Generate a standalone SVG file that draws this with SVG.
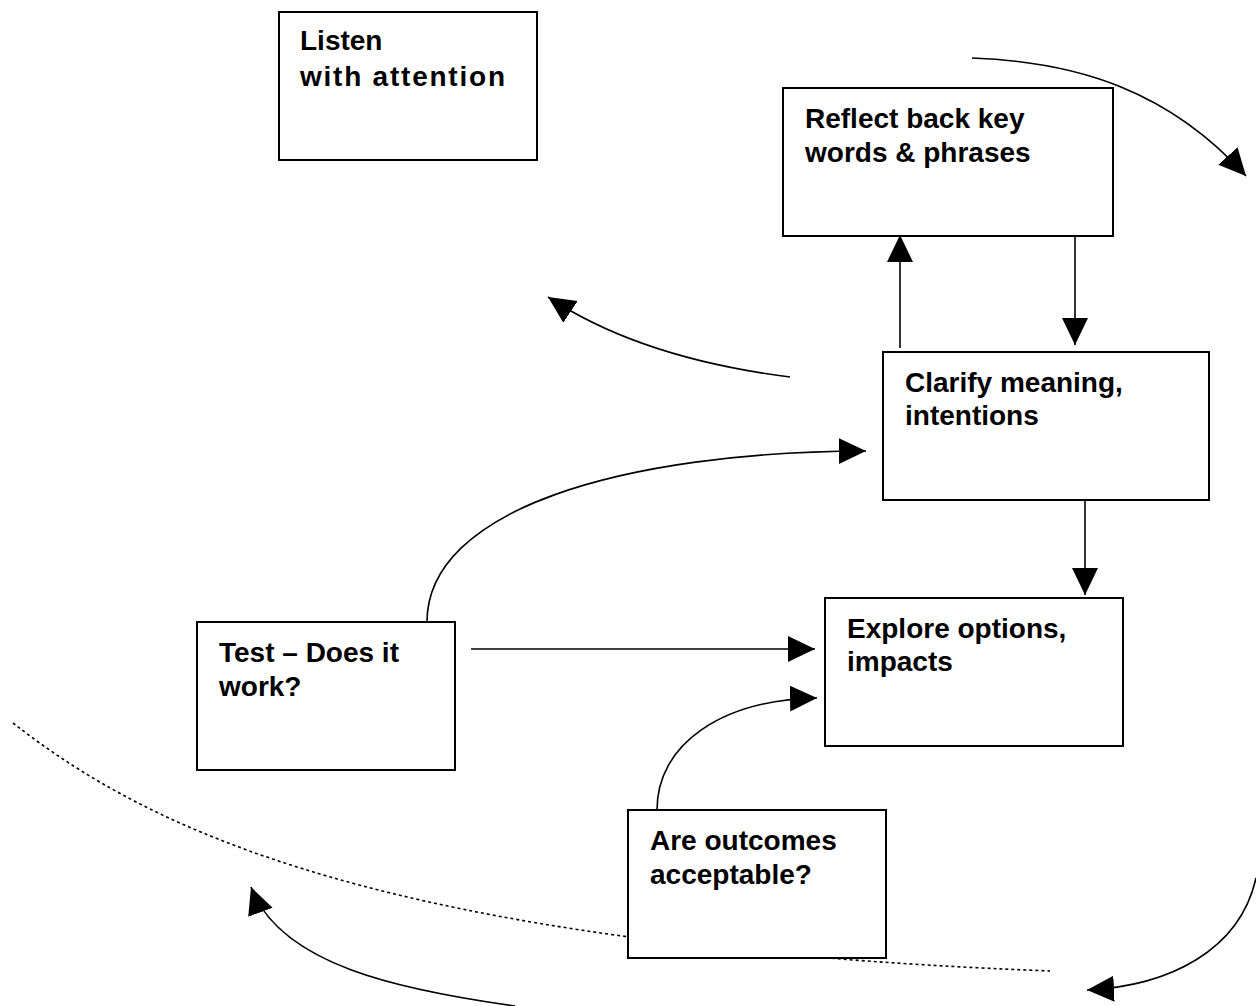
<svg xmlns="http://www.w3.org/2000/svg" width="1256" height="1006" viewBox="0 0 1256 1006">
<style>
.box{fill:#fff;stroke:#000;stroke-width:2}
.lbl{font-family:"Liberation Sans",Arial,sans-serif;font-weight:bold;font-size:28px;fill:#000}
.con{fill:none;stroke:#000;stroke-width:1.6}
.dot{fill:none;stroke:#000;stroke-width:1.6;stroke-dasharray:3 3}
</style>
<defs>
<marker id="ah" markerUnits="userSpaceOnUse" markerWidth="28" markerHeight="27" refX="27" refY="13" orient="auto">
<path d="M0,0 L27,13 L0,26 z" fill="#000"/>
</marker>
</defs>
<rect width="1256" height="1006" fill="#fff"/>
<g id="connectors">
<path class="dot" d="M13,723 C150,830 380,945 1050,971"/>
<path class="con" d="M972,58 C1080,62 1170,92 1246,176" marker-end="url(#ah)"/>
<path class="con" d="M1075,228 L1075,345" marker-end="url(#ah)"/>
<path class="con" d="M900,348 L900,235" marker-end="url(#ah)"/>
<path class="con" d="M790,377 Q640,358 548,297" marker-end="url(#ah)"/>
<path class="con" d="M427,622 C427,510 620,452 866,451" marker-end="url(#ah)"/>
<path class="con" d="M471,649 L815,649" marker-end="url(#ah)"/>
<path class="con" d="M657,810 C657,745 720,700 817,698" marker-end="url(#ah)"/>
<path class="con" d="M1085,500 L1085,595" marker-end="url(#ah)"/>
<path class="con" d="M1256,878 C1240,950 1170,986 1087,990" marker-end="url(#ah)"/>
<path class="con" d="M515,1006 C400,990 280,965 251,887" marker-end="url(#ah)"/>
</g>
<g id="listen">
<rect class="box" x="279" y="12" width="258" height="148"/>
<text class="lbl" x="300" y="50">Listen</text>
<text class="lbl" x="300" y="86" textLength="205" lengthAdjust="spacing">with attention</text>
</g>
<g id="reflect">
<rect class="box" x="783" y="88" width="330" height="148"/>
<text class="lbl" x="805" y="128">Reflect back key</text>
<text class="lbl" x="805" y="162">words &amp; phrases</text>
</g>
<g id="clarify">
<rect class="box" x="883" y="352" width="326" height="148"/>
<text class="lbl" x="905" y="392">Clarify meaning,</text>
<text class="lbl" x="905" y="425">intentions</text>
</g>
<g id="explore">
<rect class="box" x="825" y="598" width="298" height="148"/>
<text class="lbl" x="847" y="638">Explore options,</text>
<text class="lbl" x="847" y="671">impacts</text>
</g>
<g id="test">
<rect class="box" x="197" y="622" width="258" height="148"/>
<text class="lbl" x="219" y="662">Test – Does it</text>
<text class="lbl" x="219" y="696">work?</text>
</g>
<g id="outcomes">
<rect class="box" x="628" y="810" width="258" height="148"/>
<text class="lbl" x="650" y="850">Are outcomes</text>
<text class="lbl" x="650" y="884">acceptable?</text>
</g>
</svg>
